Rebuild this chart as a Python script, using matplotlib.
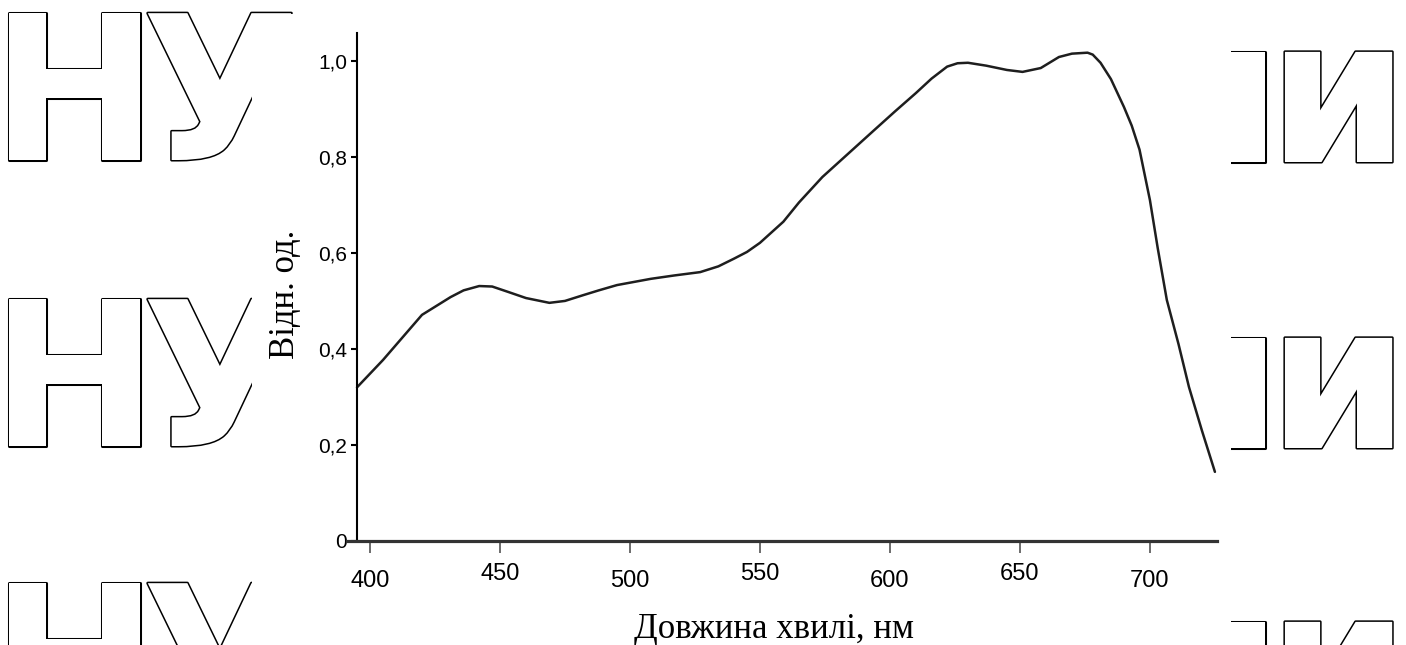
import matplotlib
matplotlib.use("Agg")
import matplotlib.pyplot as plt
import matplotlib.patheffects as pe
from matplotlib.patches import Rectangle

# relative response vs wavelength
wavelength = [395, 405, 420, 431, 436, 442, 447, 453, 460, 469, 475, 482, 488,
              495, 508, 517, 527, 534, 540, 545, 550, 559, 565, 574, 584, 594,
              602, 610, 616, 622, 626, 630, 637, 645, 651, 658, 665, 670, 676,
              678, 681, 685, 690, 693, 696, 700, 703, 706.5, 711, 715, 720, 725]
response = [0.320, 0.377, 0.471, 0.508, 0.522, 0.531, 0.530, 0.519, 0.506,
            0.496, 0.500, 0.512, 0.522, 0.533, 0.546, 0.553, 0.560, 0.572,
            0.588, 0.602, 0.621, 0.665, 0.705, 0.758, 0.807, 0.856, 0.895,
            0.933, 0.963, 0.988, 0.995, 0.996, 0.990, 0.981, 0.977, 0.985,
            1.008, 1.015, 1.017, 1.013, 0.996, 0.962, 0.904, 0.865, 0.815,
            0.710, 0.610, 0.502, 0.410, 0.321, 0.230, 0.144]

xticks = [400, 450, 500, 550, 600, 650, 700]
yticks = [0, 0.2, 0.4, 0.6, 0.8, 1.0]
ytick_labels = ["0", "0,2", "0,4", "0,6", "0,8", "1,0"]

W, H = 1406, 645
fig = plt.figure(figsize=(W / 100, H / 100), dpi=100)

# outlined background lettering
outline = [pe.withStroke(linewidth=2.2, foreground="black", joinstyle="round")]
wm = dict(fontsize=145, fontweight="bold", family="DejaVu Sans", color="white",
          va="baseline", path_effects=outline, zorder=-3)
for base in [160, 446, 730]:
    fig.text(-10 / W, 1 - base / H, "Н", ha="left", **wm)
    fig.text(142 / W, 1 - base / H, "У", ha="left", **wm)
    fig.text(1282 / W, 1 - (base + 2) / H, "н", ha="right", **wm)
    fig.text(1409 / W, 1 - (base + 2) / H, "и", ha="right", **wm)

fig.patches.append(Rectangle((252 / W, 0), (1231 - 252) / W, 1 - 14 / H,
                             transform=fig.transFigure, facecolor="white",
                             edgecolor="none", zorder=-1))

ax = fig.add_axes([347 / W, 1 - 541 / H, 870 / W, 508 / H])
ax.set_facecolor("none")
ax.plot(wavelength, response, color="#1e1e1e", lw=1.8,
        solid_joinstyle="round", solid_capstyle="round")

ax.set_xlim(391.15, 725.8)
ax.set_ylim(0, 1.058)

for s in ["top", "right"]:
    ax.spines[s].set_visible(False)
ax.spines["left"].set_position(("data", 395))
ax.spines["left"].set_linewidth(1.5)
ax.spines["left"].set_color("black")
ax.spines["bottom"].set_linewidth(2.3)
ax.spines["bottom"].set_color("#333333")

ax.set_xticks(xticks)
ax.set_xticklabels([str(t) for t in xticks], family="Liberation Sans", fontsize=17)
ax.set_yticks(yticks)
ax.set_yticklabels(ytick_labels, family="Liberation Sans", fontsize=15)
ax.tick_params(axis="x", direction="out", length=8.6, width=1.1, color="#444444", pad=12)
ax.tick_params(axis="y", direction="out", length=4, width=1.5, color="black", pad=3)

# staggered x tick labels
for lab in ax.get_xticklabels()[1::2]:
    lab.set_y(7 / 508)

ax.set_xlabel("Довжина хвилі, нм", family="Liberation Serif", fontsize=25)
ax.xaxis.set_label_coords((774 - 347) / 870, (541 - 613) / 508)
ax.set_ylabel("Відн. од.", family="Liberation Serif", fontsize=25)
ax.yaxis.set_label_coords((302 - 347) / 870, (541 - 294) / 508)

fig.savefig("out.png", dpi=100)
